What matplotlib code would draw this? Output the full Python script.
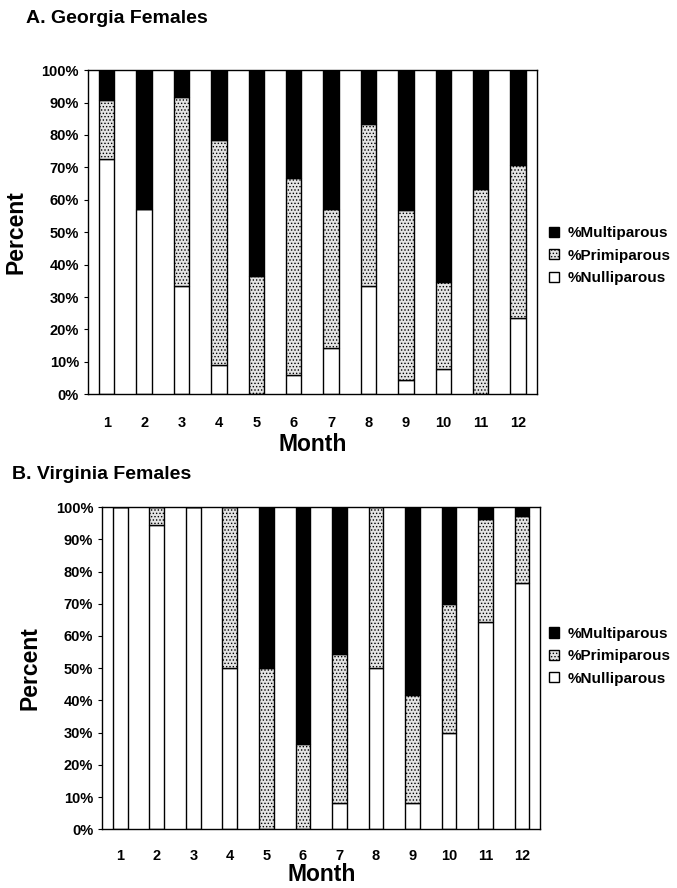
import matplotlib
matplotlib.use("Agg")
import matplotlib.pyplot as plt
from matplotlib.patches import Patch
import numpy as np

plt.rcParams['font.family'] = ['Liberation Sans', 'DejaVu Sans']
plt.rcParams['font.weight'] = 'bold'
plt.rcParams['hatch.color'] = '#707070'
plt.rcParams['hatch.linewidth'] = 0.6

months = [str(m) for m in range(1, 13)]

# Georgia females (percent of each month)
ga_null = [72.7, 57.1, 33.3, 9.1, 0, 6.0, 14.3, 33.3, 4.5, 7.7, 0, 23.5]
ga_prim = [18.2, 0, 58.3, 69.2, 36.4, 60.7, 42.9, 50.0, 52.3, 27.0, 63.2, 47.1]
ga_mult = [9.1, 42.9, 8.4, 21.7, 63.6, 33.3, 42.8, 16.7, 43.2, 65.3, 36.8, 29.4]

# Virginia females
va_null = [100, 94.5, 100, 50, 0, 0, 8.3, 50, 8.3, 30, 64.3, 76.5]
va_prim = [0, 5.5, 0, 50, 50, 26.5, 46.0, 50, 33.3, 40, 32.1, 20.6]
va_mult = [0, 0, 0, 0, 50, 73.5, 45.7, 0, 58.4, 30, 3.6, 2.9]

fig = plt.figure(figsize=(6.77, 8.88), dpi=100)


def draw_panel(rect, null, prim, mult, title, title_x, title_y, leg_y,
               tick_pad=16, month_pad=2):
    ax = fig.add_axes(rect)
    x = np.arange(1, 13)
    w = 0.41
    null = np.array(null)
    prim = np.array(prim)
    mult = np.array(mult)
    ax.bar(x, null, w, color='white', edgecolor='black', linewidth=1.0)
    ax.bar(x, prim, w, bottom=null, color='#e4e4e4', edgecolor='black',
           linewidth=1.0, hatch='.....')
    ax.bar(x, mult, w, bottom=null + prim, color='black', edgecolor='black',
           linewidth=1.0)
    ax.set_xlim(0.5, 12.5)
    ax.set_ylim(0, 100)
    ax.set_yticks(np.arange(0, 101, 10))
    ax.set_yticklabels([f'{v}%' for v in range(0, 101, 10)])
    ax.set_xticks(x)
    ax.set_xticklabels(months)
    ax.tick_params(axis='x', length=0, pad=tick_pad, labelsize=10.5)
    ax.tick_params(axis='y', length=3, labelsize=10.5)
    for s in ax.spines.values():
        s.set_linewidth(1.0)
    ax.set_ylabel('Percent', fontsize=16.5, fontweight='bold', labelpad=10)
    ax.set_xlabel('Month', fontsize=16.5, fontweight='bold', labelpad=month_pad)
    fig.text(title_x, title_y, title, fontsize=14, fontweight='bold',
             va='center', ha='left')
    handles = [Patch(facecolor='black', edgecolor='black', label='%Multiparous'),
               Patch(facecolor='#e4e4e4', edgecolor='black', hatch='.....',
                     label='%Primiparous'),
               Patch(facecolor='white', edgecolor='black', label='%Nulliparous')]
    fig.legend(handles=handles, loc='upper left', bbox_to_anchor=(0.802, leg_y),
               frameon=False, fontsize=11, handlelength=0.65, handleheight=0.65,
               handletextpad=0.55, labelspacing=0.55, borderaxespad=0)
    return ax


draw_panel([0.130, 0.556, 0.663, 0.365], ga_null, ga_prim, ga_mult,
           'A. Georgia Females', 0.038, 0.979, 0.752)
draw_panel([0.151, 0.066, 0.647, 0.363], va_null, va_prim, va_mult,
           'B. Virginia Females', 0.018, 0.466, 0.301,
           tick_pad=14, month_pad=0)

fig.savefig('out.png', dpi=100)
